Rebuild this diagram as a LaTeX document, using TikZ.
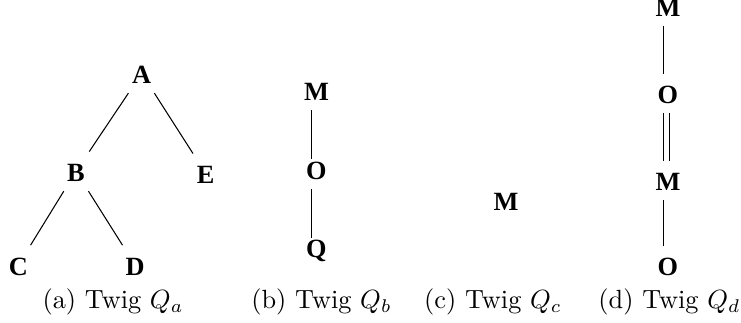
\documentclass[tikz,border=0pt]{standalone}
\usepackage{fontspec}
\newfontfamily\twigfont{Liberation Serif}
\usepackage{tikz}

\begin{document}
\begin{tikzpicture}[tnode/.style={font=\twigfont\bfseries, text height=8pt, text depth=0pt},
  subcap/.style={anchor=base}]
  \useasboundingbox (0,0) rectangle (9.90,4.315);
  % twig a
  \node[tnode] (A) at (1.893,3.335) {A};
  \node[tnode] (B) at (1.015,2.025) {B};
  \node[tnode] (E) at (2.748,1.999) {E};
  \node[tnode] (C) at (0.245,0.774) {C};
  \node[tnode] (D) at (1.804,0.774) {D};
  \draw (A) -- (B);
  \draw (A) -- (E);
  \draw (B) -- (C);
  \draw (B) -- (D);
  \node[subcap] (capa) at (1.510,0.187) {(a) Twig $Q_a$};
  % twig b
  \node[tnode] (bM) at (4.228,3.108) {M};
  \node[tnode] (bO) at (4.228,2.052) {O};
  \node[tnode] (bQ) at (4.228,1.010) {Q};
  \draw[shorten >=-3.5pt] ([xshift=-1.8pt]bM.south) -- ([xshift=-1.8pt]bO.north);
  \draw[shorten >=-4pt] ([xshift=-1.8pt]bO.south) -- ([xshift=-1.8pt]bQ.north);
  \node[subcap] (capb) at (4.295,0.187) {(b) Twig $Q_b$};
  % twig c
  \node[tnode] (cM) at (6.760,1.638) {M};
  \node[subcap] (capc) at (6.586,0.187) {(c) Twig $Q_c$};
  % twig d
  \node[tnode] (dM1) at (8.924,4.230) {M};
  \node[tnode] (dO1) at (8.924,3.067) {O};
  \node[tnode] (dM2) at (8.924,1.905) {M};
  \node[tnode] (dO2) at (8.924,0.770) {O};
  \draw ([xshift=-1.8pt]dM1.south) -- ([xshift=-1.8pt]dO1.north);
  \draw ([xshift=-1.8pt]dO1.south) -- ([xshift=-1.8pt]dM2.north);
  \draw ([xshift=0.7pt]dO1.south) -- ([xshift=0.7pt]dM2.north);
  \draw ([xshift=-1.8pt]dM2.south) -- ([xshift=-1.8pt]dO2.north);
  \node[subcap] (capd) at (8.944,0.187) {(d) Twig $Q_d$};
\end{tikzpicture}
\end{document}
